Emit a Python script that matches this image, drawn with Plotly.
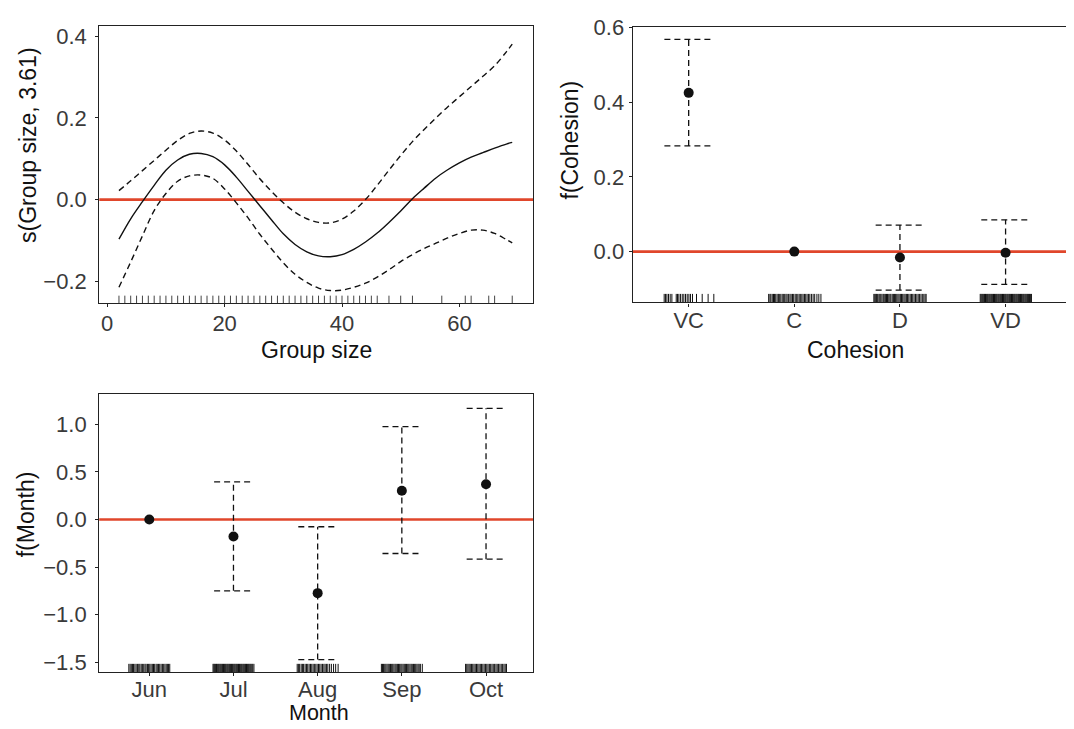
import plotly.graph_objects as go

W, H = 1074, 729

# ---------------- data ----------------
# Panel 1: smooth term s(Group size, 3.61)
gs_x = [2, 4, 6, 8, 10, 12, 14, 16, 18, 20, 22, 24, 26, 28, 30, 32, 34, 36, 38,
        40, 42, 44, 46, 48, 50, 52, 54, 56, 58, 60, 62, 64, 66, 68, 69]
gs_fit = [-0.097, -0.047, -0.005, 0.035, 0.072, 0.097, 0.111, 0.113, 0.105, 0.085,
          0.055, 0.020, -0.015, -0.050, -0.084, -0.110, -0.128, -0.138, -0.140,
          -0.135, -0.122, -0.104, -0.082, -0.056, -0.028, 0.002, 0.028, 0.053,
          0.073, 0.090, 0.104, 0.115, 0.126, 0.136, 0.140]
gs_upper = [0.022, 0.046, 0.071, 0.096, 0.121, 0.145, 0.162, 0.168, 0.163, 0.146,
            0.119, 0.086, 0.051, 0.020, -0.008, -0.031, -0.047, -0.056, -0.057,
            -0.048, -0.028, 0.000, 0.035, 0.072, 0.108, 0.142, 0.172, 0.200,
            0.227, 0.252, 0.277, 0.302, 0.328, 0.362, 0.381]
gs_lower = [-0.215, -0.153, -0.089, -0.027, 0.015, 0.045, 0.058, 0.060, 0.052,
            0.026, -0.008, -0.045, -0.085, -0.121, -0.155, -0.183, -0.203,
            -0.217, -0.223, -0.222, -0.215, -0.205, -0.190, -0.172, -0.152,
            -0.135, -0.120, -0.107, -0.094, -0.083, -0.075, -0.075, -0.083,
            -0.098, -0.106]
gs_rug = [2, 3, 4, 5, 6, 7, 8, 9, 10, 11, 12, 13, 14, 15, 16, 17, 18, 19, 20, 21,
          22, 23, 24, 25, 26, 27, 28, 29, 30, 31, 32, 33, 34, 35, 36, 37, 38, 39,
          40, 41, 42, 43, 44, 45, 46, 48, 50, 52, 57, 61, 62, 65, 66, 69]
gs_xticks = [0, 20, 40, 60]
gs_yticks = [-0.2, 0.0, 0.2, 0.4]

# Panel 2: f(Cohesion)
cohesion_levels = ["VC", "C", "D", "VD"]
cohesion_est = [0.425, 0.0, -0.016, -0.003]
cohesion_lower = [0.283, None, -0.103, -0.088]
cohesion_upper = [0.568, None, 0.071, 0.085]
cohesion_yticks = [0.0, 0.2, 0.4, 0.6]
rug_vc = [-0.232, -0.219, -0.206, -0.191, -0.175, -0.159, -0.118, -0.106, -0.093,
          -0.078, -0.061, -0.046, -0.030, -0.014, 0.002, 0.017, 0.036, 0.074,
          0.128, 0.184, 0.238]
rug_c = [-0.243, -0.231, -0.222, -0.209, -0.197, -0.188, -0.176, -0.163, -0.151,
         -0.142, -0.128, -0.115, -0.104, -0.091, -0.079, -0.068, -0.054, -0.041,
         -0.030, -0.017, -0.006, 0.008, 0.019, 0.033, 0.046, 0.057, 0.071, 0.083,
         0.096, 0.108, 0.121, 0.135, 0.147, 0.162, 0.178, 0.193, 0.214, 0.232, 0.252]
rug_d = [-0.247, -0.238, -0.229, -0.221, -0.211, -0.199, -0.190, -0.181, -0.170,
         -0.158, -0.149, -0.138, -0.127, -0.118, -0.106, -0.095, -0.086, -0.073,
         -0.062, -0.052, -0.041, -0.030, -0.019, -0.008, 0.004, 0.015, 0.026,
         0.038, 0.049, 0.061, 0.072, 0.084, 0.097, 0.109, 0.121, 0.134, 0.147,
         0.160, 0.173, 0.186, 0.199, 0.212, 0.226, 0.238, 0.248]
rug_vd = [-0.240, -0.232, -0.224, -0.216, -0.207, -0.199, -0.190, -0.182, -0.173,
          -0.165, -0.156, -0.148, -0.139, -0.131, -0.122, -0.114, -0.105, -0.097,
          -0.088, -0.080, -0.071, -0.063, -0.054, -0.046, -0.037, -0.029, -0.020,
          -0.012, -0.003, 0.005, 0.014, 0.022, 0.031, 0.039, 0.048, 0.056, 0.065,
          0.073, 0.082, 0.090, 0.099, 0.107, 0.116, 0.124, 0.133, 0.141, 0.150,
          0.158, 0.167, 0.175, 0.184, 0.192, 0.201, 0.209, 0.218, 0.226, 0.235,
          0.245]

# Panel 3: f(Month)
month_levels = ["Jun", "Jul", "Aug", "Sep", "Oct"]
month_est = [0.0, -0.179, -0.773, 0.302, 0.371]
month_lower = [None, -0.749, -1.470, -0.357, -0.416]
month_upper = [None, 0.394, -0.076, 0.974, 1.167]
month_yticks = [-1.5, -1.0, -0.5, 0.0, 0.5, 1.0]
rug_jun = [-0.243, -0.228, -0.214, -0.200, -0.187, -0.171, -0.156, -0.139,
           -0.125, -0.112, -0.096, -0.082, -0.066, -0.051, -0.038, -0.022,
           -0.008, 0.006, 0.021, 0.036, 0.050, 0.064, 0.081, 0.095, 0.110,
           0.124, 0.140, 0.156, 0.171, 0.186, 0.201, 0.215, 0.229, 0.243]
rug_jul = [-0.243, -0.233, -0.223, -0.212, -0.202, -0.192, -0.181, -0.171,
           -0.160, -0.150, -0.139, -0.129, -0.118, -0.108, -0.097, -0.087,
           -0.076, -0.066, -0.055, -0.045, -0.034, -0.024, -0.013, -0.003,
           0.008, 0.018, 0.029, 0.039, 0.050, 0.060, 0.071, 0.081, 0.092,
           0.102, 0.113, 0.123, 0.134, 0.144, 0.155, 0.165, 0.176, 0.186,
           0.197, 0.207, 0.218, 0.229, 0.243]
rug_aug = [-0.243, -0.229, -0.214, -0.196, -0.181, -0.167, -0.149, -0.133,
           -0.118, -0.101, -0.085, -0.070, -0.054, -0.039, -0.022, -0.006,
           0.010, 0.025, 0.041, 0.058, 0.074, 0.089, 0.106, 0.121, 0.142,
           0.163, 0.189, 0.214, 0.243]
rug_sep = [-0.243, -0.230, -0.217, -0.203, -0.190, -0.176, -0.162, -0.149,
           -0.135, -0.121, -0.108, -0.094, -0.080, -0.067, -0.053, -0.040,
           -0.026, -0.012, 0.001, 0.015, 0.029, 0.042, 0.056, 0.070, 0.083,
           0.097, 0.111, 0.124, 0.138, 0.152, 0.165, 0.179, 0.193, 0.206,
           0.220, 0.243]
rug_oct = [-0.243, -0.229, -0.215, -0.201, -0.187, -0.172, -0.158, -0.143,
           -0.128, -0.113, -0.098, -0.083, -0.068, -0.053, -0.038, -0.022,
           -0.007, 0.009, 0.024, 0.040, 0.055, 0.071, 0.086, 0.102, 0.118,
           0.133, 0.149, 0.165, 0.181, 0.197, 0.213, 0.228, 0.243]

# ---------------- styling ----------------
RED = "#E0462B"
FONT = "Liberation Sans, Arial, Helvetica, sans-serif"
TICK_FONT = dict(family=FONT, size=22, color="#3a3a3a")
TITLE_FONT = dict(family=FONT, size=23, color="#111111")
MONTH_TITLE_FONT = dict(family=FONT, size=21.5, color="#111111")
DASH = "6px,4px"
CAP = 0.23
# the page body adds an 8 px margin around the figure; positions below are
# window pixels, so shift them back by that margin
OFF = 8


def px_x(p):
    return (p - OFF) / W


def px_y(p):
    return 1 - (p - OFF) / H


# panel rectangles in window pixels (left, right, top, bottom)
P1 = (99.3, 533.0, 15.0, 297.7)
P2 = (632.7, 1071.7, 15.7, 297.0)
P3 = (99.2, 533.0, 390.0, 674.0)

R1x, R1y = [-1.35, 72.54], [-0.2538, 0.4257]
R2x, R2y = [-0.53, 3.626], [-0.1362, 0.6026]
R3x, R3y = [-0.595, 4.558], [-1.603, 1.321]


def axis_common(standoff):
    return dict(showline=True, mirror=True, linecolor="#222222", linewidth=1.2,
                ticks="outside", ticklen=3, tickwidth=1, tickcolor="#222222",
                showgrid=False, zeroline=False, tickfont=TICK_FONT,
                ticklabelstandoff=standoff, ticklabeloverflow="allow")


def rug_xy(xs, y0, h):
    X, Y = [], []
    for x in xs:
        X += [x, x, None]
        Y += [y0, y0 + h, None]
    return X, Y


def errbar_xy(pos, lows, highs, half):
    X, Y = [], []
    for p, lo, hi in zip(pos, lows, highs):
        if lo is None or hi is None:
            continue
        X += [p, p, None, p - half, p + half, None, p - half, p + half, None]
        Y += [lo, hi, None, lo, lo, None, hi, hi, None]
    return X, Y


fig = go.Figure()

# ----- panel 1 -----
h1 = 0.027 * (R1y[1] - R1y[0])
rx, ry = rug_xy(gs_rug, R1y[0], h1)
fig.add_trace(go.Scatter(x=rx, y=ry, mode="lines", line=dict(color="#444444", width=1),
                         xaxis="x", yaxis="y", hoverinfo="skip"))
for ys, dash in ((gs_upper, DASH), (gs_lower, DASH), (gs_fit, "solid")):
    fig.add_trace(go.Scatter(x=gs_x, y=ys, mode="lines",
                             line=dict(color="#111111", width=1.4, dash=dash,
                                       shape="spline", smoothing=1.0),
                             xaxis="x", yaxis="y"))

# ----- panel 2 -----
h2 = 0.031 * (R2y[1] - R2y[0])
coh_pos = list(range(len(cohesion_levels)))
coh_rug = []
for i, offs in enumerate([rug_vc, rug_c, rug_d, rug_vd]):
    coh_rug += [coh_pos[i] + o for o in offs]
rx, ry = rug_xy(coh_rug, R2y[0], h2)
fig.add_trace(go.Scatter(x=rx, y=ry, mode="lines", line=dict(color="#111111", width=1),
                         xaxis="x2", yaxis="y2", hoverinfo="skip"))
ex, ey = errbar_xy(coh_pos, cohesion_lower, cohesion_upper, CAP)
fig.add_trace(go.Scatter(x=ex, y=ey, mode="lines",
                         line=dict(color="#111111", width=1.3, dash=DASH),
                         xaxis="x2", yaxis="y2"))
fig.add_trace(go.Scatter(x=coh_pos, y=cohesion_est, mode="markers",
                         marker=dict(color="#111111", size=10),
                         xaxis="x2", yaxis="y2", cliponaxis=False))

# ----- panel 3 -----
h3 = 0.03 * (R3y[1] - R3y[0])
mon_pos = list(range(len(month_levels)))
mon_rug = []
for i, offs in enumerate([rug_jun, rug_jul, rug_aug, rug_sep, rug_oct]):
    mon_rug += [mon_pos[i] + o for o in offs]
rx, ry = rug_xy(mon_rug, R3y[0], h3)
fig.add_trace(go.Scatter(x=rx, y=ry, mode="lines", line=dict(color="#111111", width=1),
                         xaxis="x3", yaxis="y3", hoverinfo="skip"))
ex, ey = errbar_xy(mon_pos, month_lower, month_upper, CAP)
fig.add_trace(go.Scatter(x=ex, y=ey, mode="lines",
                         line=dict(color="#111111", width=1.3, dash=DASH),
                         xaxis="x3", yaxis="y3"))
fig.add_trace(go.Scatter(x=mon_pos, y=month_est, mode="markers",
                         marker=dict(color="#111111", size=10),
                         xaxis="x3", yaxis="y3", cliponaxis=False))

# red zero reference lines
shapes = []
for xr, yr in (("x domain", "y"), ("x2 domain", "y2"), ("x3 domain", "y3")):
    shapes.append(dict(type="line", xref=xr, yref=yr, x0=0, x1=1, y0=0, y1=0,
                       line=dict(color=RED, width=2.6), layer="below"))

# axis titles as annotations
annotations = [
    dict(text="Group size", x=px_x(316.2), y=px_y(345), xref="paper", yref="paper",
         showarrow=False, font=TITLE_FONT, xanchor="center", yanchor="middle"),
    dict(text="Cohesion", x=px_x(855), y=px_y(345), xref="paper", yref="paper",
         showarrow=False, font=TITLE_FONT, xanchor="center", yanchor="middle"),
    dict(text="Month", x=px_x(318.5), y=px_y(729), xref="paper", yref="paper",
         showarrow=False, font=MONTH_TITLE_FONT, xanchor="center",
         yanchor="bottom", borderpad=0),
    dict(text="s(Group size, 3.61)", x=px_x(27.5), y=px_y(137), xref="paper",
         yref="paper", showarrow=False, font=TITLE_FONT, textangle=-90,
         xanchor="center", yanchor="middle"),
    dict(text="f(Cohesion)", x=px_x(570), y=px_y(132), xref="paper", yref="paper",
         showarrow=False, font=TITLE_FONT, textangle=-90,
         xanchor="center", yanchor="middle"),
    dict(text="f(Month)", x=px_x(26), y=px_y(513), xref="paper", yref="paper",
         showarrow=False, font=TITLE_FONT, textangle=-90,
         xanchor="center", yanchor="middle"),
]

fig.update_layout(
    width=W, height=H,
    margin=dict(l=0, r=0, t=0, b=0),
    paper_bgcolor="white", plot_bgcolor="white",
    showlegend=False,
    shapes=shapes,
    annotations=annotations,
    xaxis=dict(domain=[px_x(P1[0]), px_x(P1[1])], range=R1x, anchor="y",
               tickvals=gs_xticks, **axis_common(-3)),
    yaxis=dict(domain=[px_y(P1[3]), px_y(P1[2])], range=R1y, anchor="x",
               tickvals=gs_yticks, tickformat=".1f", **axis_common(4)),
    xaxis2=dict(domain=[px_x(P2[0]), px_x(P2[1])], range=R2x, anchor="y2",
                tickvals=coh_pos, ticktext=cohesion_levels, **axis_common(-5)),
    yaxis2=dict(domain=[px_y(P2[3]), px_y(P2[2])], range=R2y, anchor="x2",
                tickvals=cohesion_yticks, tickformat=".1f", **axis_common(0)),
    xaxis3=dict(domain=[px_x(P3[0]), px_x(P3[1])], range=R3x, anchor="y3",
                tickvals=mon_pos, ticktext=month_levels, **axis_common(-6)),
    yaxis3=dict(domain=[px_y(P3[3]), px_y(P3[2])], range=R3y, anchor="x3",
                tickvals=month_yticks, tickformat=".1f", **axis_common(4)),
)

fig.write_html("out.html")
